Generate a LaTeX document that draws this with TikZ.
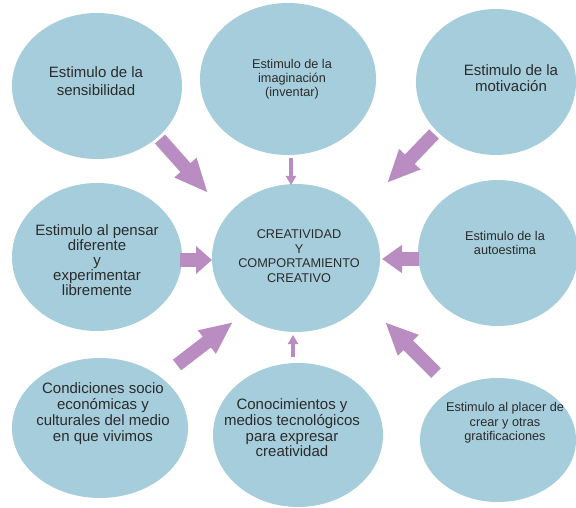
\documentclass[tikz,border=0pt]{standalone}
\usepackage{fontspec}
\setmainfont{Liberation Sans}
\usetikzlibrary{shapes.geometric,arrows.meta}
\definecolor{ellblue}{HTML}{A5CDDB}
\definecolor{arrpurple}{HTML}{BA8DC2}
\definecolor{txtgray}{HTML}{2B2B2B}
\tikzset{
  bubble/.style={ellipse, fill=ellblue, inner sep=0pt},
  bigtxt/.style={align=center, text=txtgray, inner sep=0pt, font=\fontsize{15}{#1}\selectfont},
  smalltxt/.style={align=center, text=txtgray, inner sep=0pt, font=\fontsize{12.7}{#1}\selectfont},
  bigarrow/.style={draw=arrpurple, line cap=butt, line width=13.5pt, -{Triangle[width=27pt,length=#1, fill=arrpurple]}},
  thinarrow/.style={draw=arrpurple, line cap=butt, line width=4.5pt, -{Triangle[width=10pt,length=9pt, fill=arrpurple]}}
}
\begin{document}
\begin{tikzpicture}[x=1pt,y=-1pt]
\useasboundingbox (0,0) rectangle (576,508);
% ellipses
\node[bubble, minimum width=170pt, minimum height=146pt] (e1) at (97,86) {};
\node[bubble, minimum width=176pt, minimum height=152pt] (e2) at (288,79) {};
\node[bubble, minimum width=160pt, minimum height=146pt] (e3) at (496,82) {};
\node[bubble, minimum width=170pt, minimum height=148pt] (e4) at (97,257) {};
\node[bubble, minimum width=168pt, minimum height=148pt] (e5) at (296,258) {};
\node[bubble, minimum width=160pt, minimum height=146pt] (e6) at (498,253) {};
\node[bubble, minimum width=176pt, minimum height=140pt] (e7) at (100,428) {};
\node[bubble, minimum width=170pt, minimum height=144pt] (e8) at (298,435) {};
\node[bubble, minimum width=156pt, minimum height=124pt] (e9) at (498,440) {};
% texts
\node[bigtxt=18] (t1) at (96,81) {Estimulo de la\\sensibilidad};
\node[smalltxt=14] (t2) at (292,79) {Estimulo de la\\imaginación\\(inventar)};
\node[bigtxt=16] (t3) at (511,78) {Estimulo de la\\motivación};
\node[bigtxt=15] (t4) at (97,260) {Estimulo al pensar\\diferente\\y\\experimentar\\libremente};
\node[smalltxt=14.5] (t5) at (299,256) {CREATIVIDAD\\Y\\COMPORTAMIENTO\\CREATIVO};
\node[smalltxt=14] (t6) at (505,243) {Estimulo de la\\autoestima};
\node[bigtxt=16] (t7) at (103,414) {Condiciones socio\\económicas y\\culturales del medio\\en que vivimos};
\node[bigtxt=15.7] (t8) at (292,428) {Conocimientos y\\medios tecnológicos\\para expresar\\creatividad};
\node[smalltxt=14.5] (t9) at (505,423) {Estimulo al placer de\\crear y otras\\gratificaciones};
% arrow ends
\coordinate (a1s) at (160,139);
\coordinate (a1e) at (208,193);
\coordinate (a2s) at (291,158);
\coordinate (a2e) at (291,185);
\coordinate (a3s) at (434,134);
\coordinate (a3e) at (387,183);
\coordinate (a4s) at (180,260);
\coordinate (a4e) at (212,260);
\coordinate (a5s) at (419,259);
\coordinate (a5e) at (382,259);
\coordinate (a6s) at (177,365);
\coordinate (a6e) at (233,322);
\coordinate (a7s) at (293,357);
\coordinate (a7e) at (293,335);
\coordinate (a8s) at (436,373);
\coordinate (a8e) at (385,322);
% arrows
\draw[bigarrow=34pt] (a1s) -- (a1e);
\draw[thinarrow] (a2s) -- (a2e);
\draw[bigarrow=33pt] (a3s) -- (a3e);
\draw[bigarrow=16pt] (a4s) -- (a4e);
\draw[bigarrow=20pt] (a5s) -- (a5e);
\draw[bigarrow=33pt] (a6s) -- (a6e);
\draw[thinarrow] (a7s) -- (a7e);
\draw[bigarrow=33pt] (a8s) -- (a8e);
\end{tikzpicture}
\end{document}
